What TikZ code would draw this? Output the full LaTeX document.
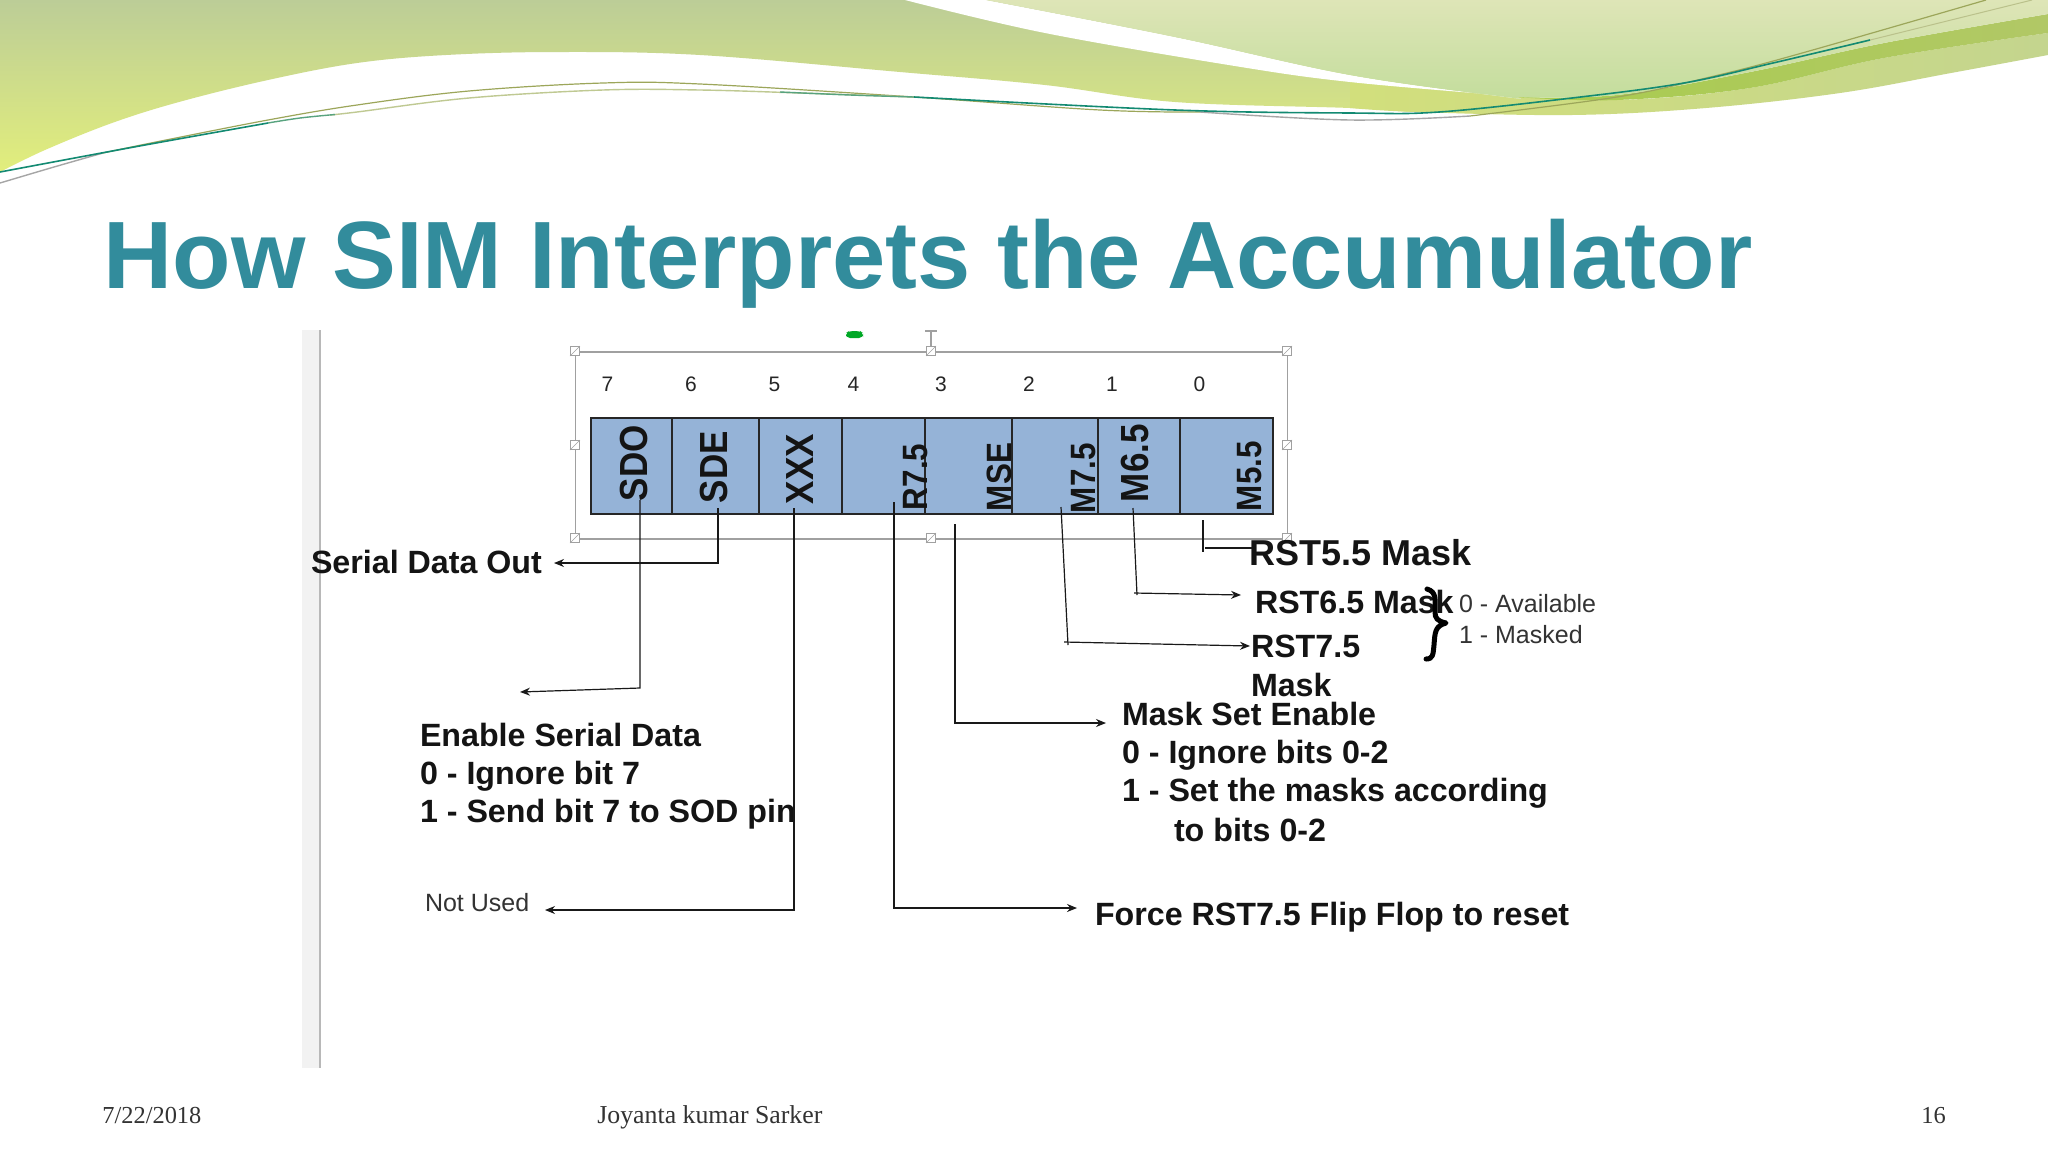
\documentclass[tikz,border=0pt]{standalone}
\usepackage{fontspec}
\setmainfont{Liberation Sans}
\newfontfamily\footf{Liberation Serif}
\usetikzlibrary{arrows.meta}
\definecolor{ttl}{HTML}{328C9C}
\definecolor{cellb}{HTML}{95B3D7}
\definecolor{selg}{HTML}{A0A0A0}
\definecolor{bgtop}{HTML}{BCCD97}
\definecolor{bgbot}{HTML}{E2EE7C}
\definecolor{lgtop}{HTML}{DEE5B7}
\definecolor{lgbot}{HTML}{C3DD9C}
\definecolor{bandl}{HTML}{D2DF7C}
\definecolor{bandr}{HTML}{C4D58E}
\definecolor{banddl}{HTML}{A9CC4E}
\definecolor{banddr}{HTML}{B1C866}
\definecolor{olv}{HTML}{9CA65A}
\definecolor{palev}{HTML}{BFC992}
\definecolor{tealc}{HTML}{138A72}
\newcommand{\regtxt}[1]{\scalebox{1}[1.12]{#1}}
\tikzset{
 lab/.style={anchor=base west,inner sep=0pt,outer sep=0pt,text=black!92},
 bl/.style={lab,font=\fontsize{16.1}{18}\selectfont\bfseries},
 blb/.style={lab,font=\fontsize{18}{20}\selectfont\bfseries},
 rg/.style={lab,font=\fontsize{12.5}{15}\selectfont,text=black!80},
 num/.style={anchor=center,inner sep=0pt,font=\fontsize{10.5}{12}\selectfont,text=black!85},
 cell/.style={draw=black!85,line width=.75pt,fill=cellb,anchor=north west,minimum height=48pt,inner sep=0pt,outer sep=0pt},
 reg/.style={anchor=base west,rotate=90,inner sep=0pt,outer sep=0pt,font=\fontsize{17.5}{20}\selectfont\bfseries,text=black!92},
 regs/.style={reg,font=\fontsize{15.7}{18}\selectfont\bfseries},
 conn/.style={draw=black!90,line width=.6pt},
 arr/.style={conn,-{Stealth[length=5pt,width=4pt]}},
 hnd/.style={draw=selg,fill=white,line width=.5pt,minimum size=4.5pt,inner sep=0pt},
 foot/.style={anchor=base west,inner sep=0pt,font=\footf\fontsize{12.2}{13}\selectfont,text=black!80},
}
\begin{document}
\begin{tikzpicture}[x=.5pt,y=-.5pt]
\useasboundingbox (0,0) rectangle (2048,1152);
\fill[white] (0,0) rectangle (2048,1152);
% header waves
\shade[top color=bgtop,bottom color=bgbot] (0,0) -- (1520,0) -- (1520,114) -- plot[smooth,tension=.6] coordinates {(1520,114) (1417,112) (1350,108) (1175,102) (1045,85) (900,72) (700,55) (558,52) (446,55) (357,63) (268,80) (179,102) (112,123) (45,150) (0,172)} -- cycle;
\shade[left color=bandl,right color=bandr] plot[smooth,tension=.6] coordinates {(1350,82) (1497,95) (1617,100) (1750,88) (1884,58) (2048,33)} -- (2048,55) -- plot[smooth,tension=.6] coordinates {(2048,55) (1951,73) (1840,93) (1706,108) (1572,115) (1417,112) (1350,108)} -- cycle;
\fill[white] plot[smooth,tension=.6] coordinates {(905,0) (1045,33) (1241,67) (1350,82) (1497,95) (1515,97)} -- plot[smooth,tension=.6] coordinates {(1515,97) (1506,97) (1350,75) (1175,37) (986,0)} -- cycle;
\shade[left color=banddl,right color=banddr] plot[smooth,tension=.6] coordinates {(1515,97) (1617,95) (1750,72) (1884,43) (2048,14)} -- (2048,33) -- plot[smooth,tension=.6] coordinates {(2048,33) (1884,58) (1750,88) (1617,100) (1515,97)} -- cycle;
\shade[top color=lgtop,bottom color=lgbot] (986,0) -- plot[smooth,tension=.6] coordinates {(986,0) (1175,37) (1350,75) (1506,97) (1515,97)} -- plot[smooth,tension=.6] coordinates {(1515,97) (1617,95) (1750,72) (1884,43) (2048,14)} -- (2048,0) -- cycle;
\draw[black!35,line width=.7pt] plot[smooth,tension=.6] coordinates {(0,183) (54,167) (103,153)};
\draw[black!35,line width=.7pt] plot[smooth,tension=.6] coordinates {(1200,112) (1350,120) (1470,116)};
\draw[olv,line width=.6pt] plot[smooth,tension=.6] coordinates {(103,153) (156,142) (268,120) (357,105) (469,91) (603,83) (700,84) (914,97) (1100,110) (1200,112)};
\draw[olv,line width=.6pt] plot[smooth,tension=.6] coordinates {(1470,116) (1617,97) (1706,78) (1795,55) (1986,0)};
\draw[palev,line width=.7pt] plot[smooth,tension=.6] coordinates {(330,115) (357,112) (469,98) (603,90) (700,90) (800,93) (914,97)};
\draw[olv!70,line width=.5pt] (1850,45) -- (2032,0);
\draw[tealc!60!palev,line width=.7pt] plot[smooth,tension=.6] coordinates {(268,123) (300,118) (335,114.5)};
\draw[tealc!60!palev,line width=.7pt] plot[smooth,tension=.6] coordinates {(780,92) (850,95) (914,97)};
\draw[tealc,line width=.8pt] plot[smooth,tension=.6] coordinates {(0,172) (134,147) (268,123)};
\draw[tealc,line width=.8pt] plot[smooth,tension=.6] coordinates {(914,97) (1175,110) (1350,113) (1439,112) (1572,98) (1684,83) (1773,63) (1870,40)};
% title
\node[anchor=base west,inner sep=0pt,text=ttl,font=\fontsize{47.85}{54}\selectfont\bfseries] (title) at (103.5,288.5) {How SIM Interprets the Accumulator};
% left strip
\fill[black!5] (302,330) rectangle (320,1068);
\draw[black!28,line width=.6pt] (320,330) -- (320,1068);
% selection frame
\node[draw=selg,line width=.9pt,anchor=north west,minimum width=356pt,minimum height=93.5pt,inner sep=0pt] (sel) at (574.5,351) {};
\draw[selg,line width=.7pt] (931,330) -- (931,351);
\draw[selg,line width=.7pt] (925,331) -- (937,331);
\fill[green!60!black!85!cyan,rounded corners=2pt] (846,338) -- (846,333) -- (849,331) -- (860,331) -- (863,333) -- (863,338) -- cycle;
\foreach \n/\x/\y in {a/575/351,b/931/351,c/1287/351,d/575/445,e/1287/445,f/575/538,g/931/538,h/1287/538}{
 \node[hnd] (h\n) at (\x,\y) {};
 \draw[selg,line width=.3pt] (h\n.south west) -- (h\n.north east);
}
% bit numbers
\foreach \n/\x in {7/607.5,6/691,5/774.5,4/853.5,3/941,2/1029,1/1112,0/1199.5}{
 \node[num] (bit\n) at (\x,384) {\n};
}
% register
\node[cell,minimum width=40.5pt] (c7) at (591,418) {};
\node[cell,minimum width=43.5pt] (c6) at (672,418) {};
\node[cell,minimum width=41.5pt] (c5) at (759,418) {};
\node[cell,minimum width=41.5pt] (c4) at (842,418) {};
\node[cell,minimum width=43.5pt] (c3) at (925,418) {};
\node[cell,minimum width=43pt] (c2) at (1012,418) {};
\node[cell,minimum width=41pt] (c1) at (1098,418) {};
\node[cell,minimum width=46.5pt] (c0) at (1180,418) {};
\node[reg] (sdo) at (647,501) {\regtxt{SDO}};
\node[reg] (sde) at (727,503) {\regtxt{SDE}};
\node[reg] (xxx) at (813,504) {\regtxt{XXX}};
\node[regs] (r75) at (927,510) {\regtxt{R7.5}};
\node[regs] (mse) at (1011,511) {\regtxt{MSE}};
\node[regs] (m75) at (1095,513) {\regtxt{M7.5}};
\node[reg] (m65) at (1148,502) {\regtxt{M6.5}};
\node[regs] (m55) at (1261,511) {\regtxt{M5.5}};
% labels
\node[bl] (serial) at (311,573) {Serial Data Out};
\node[bl] (en1) at (420,746) {Enable Serial Data};
\node[bl] (en2) at (420,784) {0 - Ignore bit 7};
\node[bl] (en3) at (420,822) {1 - Send bit 7 to SOD pin};
\node[rg] (notused) at (425,911) {Not Used};
\node[bl] (force) at (1095,925) {Force RST7.5 Flip Flop to reset};
\node[blb] (r55) at (1249,565) {RST5.5 Mask};
\node[bl] (r65) at (1255,613) {RST6.5 Mask};
\node[bl] (r75t) at (1251,657) {RST7.5};
\node[bl] (r75m) at (1251,696) {Mask};
\node[bl] (ms1) at (1122,725) {Mask Set Enable};
\node[bl] (ms2) at (1122,763) {0 - Ignore bits 0-2};
\node[bl] (ms3) at (1122,801) {1 - Set the masks according};
\node[bl] (ms4) at (1174,841) {to bits 0-2};
\node[rg] (av) at (1459,612) {0 - Available};
\node[rg] (mk) at (1459,643) {1 - Masked};
% brace
\draw[black,line width=2.5pt,line cap=round,line join=round] (1427,589) .. controls (1437,592) and (1435,600) .. (1435,612) .. controls (1435,618) and (1437,621) .. (1446,623) .. controls (1435,626) and (1435,632) .. (1434,645) .. controls (1433,655) and (1433,659) .. (1426,659);
% connector points
\coordinate (p7a) at (640,500); \coordinate (p7b) at (640,688); \coordinate (p7c) at (520,692);
\coordinate (p6a) at (718,508); \coordinate (p6b) at (718,563); \coordinate (p6c) at (554,563);
\coordinate (p5a) at (794,508); \coordinate (p5b) at (794,910); \coordinate (p5c) at (545,910);
\coordinate (p4a) at (894,502); \coordinate (p4b) at (894,908); \coordinate (p4c) at (1077,908);
\coordinate (p3a) at (955,524); \coordinate (p3b) at (955,723); \coordinate (p3c) at (1106,723);
\coordinate (p2a) at (1061,507); \coordinate (p2b) at (1068,645); \coordinate (p2s) at (1064,642); \coordinate (p2c) at (1250,646);
\coordinate (p1a) at (1133,508); \coordinate (p1b) at (1137,595); \coordinate (p1s) at (1134,593); \coordinate (p1c) at (1241,595);
\coordinate (p0a) at (1203,520); \coordinate (p0b) at (1203,552); \coordinate (p0s) at (1205,548); \coordinate (p0c) at (1252,548);
\draw[arr] (p7a) -- (p7b) -- (p7c);
\draw[arr] (p6a) -- (p6b) -- (p6c);
\draw[arr] (p5a) -- (p5b) -- (p5c);
\draw[arr] (p4a) -- (p4b) -- (p4c);
\draw[arr] (p3a) -- (p3b) -- (p3c);
\draw[conn] (p2a) -- (p2b);
\draw[arr] (p2s) -- (p2c);
\draw[conn] (p1a) -- (p1b);
\draw[arr] (p1s) -- (p1c);
\draw[conn] (p0a) -- (p0b);
\draw[conn] (p0s) -- (p0c);
% footer
\node[foot] (fd) at (102,1123) {7/22/2018};
\node[foot,font=\footf\fontsize{12.9}{14}\selectfont] (fn) at (597,1123) {Joyanta kumar Sarker};
\node[foot] (fp) at (1921,1123) {16};
\end{tikzpicture}
\end{document}
